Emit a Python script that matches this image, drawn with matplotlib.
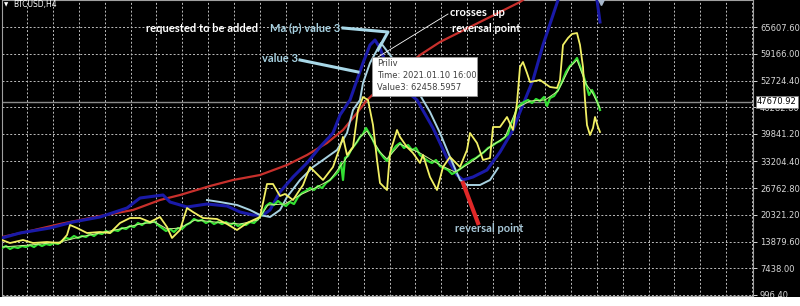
import matplotlib.pyplot as plt
from matplotlib.lines import Line2D
from matplotlib.patches import Rectangle
import numpy as np

# price scale labels shown on the right
tick_labels = ["996.40", "7438.00", "13879.60", "20321.20", "26762.80", "33204.40",
               "39841.20", "46282.80", "52724.40", "59166.00", "65607.60"]
tick_values = [float(t) for t in tick_labels]
last_price = 47670.92

# slow MA (red)
red_x = [2, 30, 60, 100, 133, 160, 180, 210, 233, 260, 287, 307, 327, 343, 357, 367,
         380, 400, 420, 440, 460, 480, 500, 520, 530]
red_y = [14989, 16436, 18125, 20055, 21503, 23915, 25121, 27293, 28740, 29946, 32359,
         34771, 37666, 40803, 44904, 48040, 50935, 54795, 58896, 62033, 64445, 66858,
         69270, 71683, 73371]

# fast MA (dark blue)
blue_x = [2, 20, 50, 73, 100, 127, 140, 163, 170, 187, 207, 227, 240, 253, 263, 270,
          280, 293, 307, 320, 333, 340, 350, 357, 363, 370, 375, 380, 390, 405, 417,
          433, 447, 457, 463, 473, 487, 500, 513, 520, 533, 543, 553, 558, 565, 578,
          590, 597, 600]
blue_y = [14747, 15954, 17160, 18607, 19814, 21985, 24397, 25121, 23432, 22226, 22950,
          22467, 21020, 20296, 20296, 21503, 25845, 29464, 32841, 36701, 40079, 44421,
          48040, 52865, 56966, 61309, 62515, 60585, 54071, 50452, 48040, 41285, 34047,
          29946, 28740, 29464, 31152, 35495, 40803, 45145, 52865, 61309, 68546, 72165,
          76990, 80609, 76990, 72165, 66858]

# Ma (p) value 3 (light blue)
lblue_x = [207, 220, 237, 250, 260, 270, 280, 287, 300, 313, 323, 337, 347, 353, 360,
           363, 370, 377, 381, 390, 405, 420, 430, 440, 450, 460, 467, 480, 490, 498]
lblue_y = [23915, 23432, 22709, 21503, 20296, 19814, 21503, 24639, 28740, 31876, 33565,
           35977, 40079, 45627, 48040, 52141, 56966, 60102, 61791, 58896, 54071, 49246,
           45145, 40079, 34289, 28740, 27534, 27534, 28740, 31635]

# value 3 (yellow)
yel_x = [2, 10, 23, 33, 47, 60, 67, 70, 77, 87, 100, 110, 120, 130, 140, 150, 160, 167,
         172, 180, 187, 193, 203, 217, 227, 237, 247, 260, 267, 273, 280, 285, 293, 303,
         310, 317, 323, 333, 340, 343, 347, 353, 358, 363, 368, 373, 377, 380, 387, 390,
         397, 400, 407, 413, 420, 423, 430, 437, 443, 450, 460, 467, 470, 477, 483, 490,
         493, 500, 507, 513, 517, 520, 523, 527, 530, 540, 550, 557, 560, 563, 568, 572,
         577, 580, 583, 585, 587, 590, 593, 595, 598, 600]
yel_y = [14265, 13541, 14265, 13541, 13782, 13541, 15471, 17884, 17160, 15954, 16195,
         15954, 18366, 19572, 19572, 18607, 19814, 17401, 14747, 16677, 21985, 21020,
         19572, 19331, 18125, 16677, 18366, 19814, 27775, 27775, 24880, 25362, 23915,
         27534, 31876, 30187, 28740, 31876, 36701, 39114, 34771, 36701, 45627, 48764,
         48040, 42009, 33565, 28016, 26327, 35254, 40803, 39114, 36701, 35254, 32841,
         34771, 29464, 26327, 31876, 34289, 31876, 35977, 40079, 37666, 33565, 34047,
         41526, 41526, 43939, 40803, 47316, 56001, 57207, 54554, 52382, 52865, 51176,
         50935, 52865, 61309, 62997, 63962, 64204, 61309, 56001, 48040, 42009, 39596,
         41285, 43939, 41526, 40320]

# price (green, noisy)
grn_x = [2, 6, 10, 14, 18, 22, 26, 30, 34, 38, 42, 46, 50, 54, 58, 62, 66, 70, 74, 78,
         82, 86, 90, 94, 98, 102, 106, 110, 114, 118, 122, 126, 130, 134, 138, 142, 146,
         150, 154, 158, 162, 166, 170, 174, 178, 182, 186, 190, 194, 198, 202, 206, 210,
         214, 218, 222, 226, 230, 234, 238, 242, 246, 250, 254, 258, 262, 266, 270, 274,
         278, 282, 286, 290, 294, 298, 302, 306, 310, 314, 318, 322, 326, 330, 334, 338,
         341, 343, 345, 348, 351, 354, 357, 360, 363, 366, 369, 372, 375, 378, 381, 384,
         387, 390, 393, 396, 400, 404, 408, 412, 416, 420, 424, 428, 432, 436, 440, 444,
         448, 452, 456, 460, 464, 468, 472, 476, 480, 484, 488, 492, 496, 500, 504, 508,
         511, 514, 517, 520, 524, 528, 532, 536, 540, 544, 547, 550, 554, 558, 562, 566,
         570, 574, 577, 580, 583, 586, 589, 592, 595, 598, 600]
grn_y = [12335, 12817, 12094, 12576, 12335, 12817, 12576, 13059, 12576, 13300, 12817,
         13300, 13059, 13541, 13300, 14024, 14747, 14506, 15230, 14747, 15230, 14989,
         15712, 15230, 15954, 15712, 16436, 15954, 16677, 16436, 17160, 16919, 17642,
         17401, 18366, 17884, 18607, 18366, 18849, 17884, 17160, 16436, 16919, 16195,
         17160, 16919, 17884, 18366, 19331, 18849, 19090, 18366, 18849, 18125, 18607,
         18125, 18607, 17884, 18366, 17642, 18125, 17884, 18607, 18366, 19331, 20537,
         22467, 23191, 22709, 23674, 22950, 22467, 23432, 22950, 24639, 25604, 26086,
         26810, 26327, 27292, 26810, 28016, 28740, 29705, 30670, 32841, 28740, 34047,
         34530, 35977, 36942, 37907, 39114, 39837, 41285, 40079, 38872, 37184, 35977,
         35012, 34047, 33324, 34771, 35977, 36942, 37666, 36460, 37184, 35977, 36460,
         34771, 34047, 33324, 32841, 33565, 32117, 31635, 31152, 30187, 30670, 31394,
         32117, 32841, 33565, 34047, 34771, 35495, 36460, 36942, 37666, 38149, 38872,
         39837, 42250, 43697, 46110, 46834, 47557, 48040, 47316, 48281, 47799, 48764,
         46592, 48522, 49005, 50452, 52382, 54795, 56242, 57207, 58172, 56242, 54312,
         51900, 49246, 50452, 49005, 47075, 45627]

# smoothed price (pale core)
pale_x = [2, 30, 60, 80, 100, 120, 140, 155, 167, 180, 195, 215, 240, 258, 268, 285,
          300, 315, 330, 345, 360, 367, 380, 387, 400, 420, 440, 455, 470, 490, 505,
          517, 530, 545, 558, 570, 577, 586, 592, 600]
pale_y = [12576, 13059, 13782, 14989, 15954, 16919, 18125, 18607, 16919, 17160, 19090,
          18607, 18125, 19090, 22709, 22950, 25121, 26810, 28740, 33565, 39114, 40561,
          35495, 33806, 37425, 35254, 32359, 30670, 32841, 36701, 39114, 46110, 47799,
          48040, 50211, 56001, 57690, 51900, 49970, 46110]

W, H = 800, 306
fig = plt.figure(figsize=(W / 100, H / 100), dpi=100, facecolor="black")
ax = fig.add_axes([2 / W, 10 / H, 751 / W, 296 / H], facecolor="black")
ax.set_xlim(2, 753)
ax.set_ylim(755, 72165)

grid_kw = dict(color="#bdbdbd", lw=0.7, ls=(0, (2, 2)), zorder=1)
for v in tick_values:
    ax.axhline(v, **grid_kw)
for gx in np.arange(27, 753, 25.9):
    ax.axvline(gx, **grid_kw)
ax.axhline(last_price, color="#8a8a8a", lw=1.0, zorder=2)

ax.plot(red_x, red_y, color="#c8302c", lw=1.6, zorder=3)
ax.plot(blue_x, blue_y, color="#1a1aa8", lw=2.2, zorder=4)
ax.plot(lblue_x, lblue_y, color="#a8d2e2", lw=1.4, zorder=5)
ax.plot(grn_x, grn_y, color="#33e033", lw=1.6, zorder=6)
ax.plot(pale_x, pale_y, color="#c8f090", lw=0.7, zorder=7)
ax.plot(yel_x, yel_y, color="#f2f064", lw=1.3, zorder=8)

ax.set_xticks([])
ax.yaxis.tick_right()
ax.set_yticks(tick_values)
ax.set_yticklabels(tick_labels)
ax.tick_params(axis="y", colors="#d8d8d8", labelsize=6, length=3, width=0.7, pad=2)
for s in ax.spines.values():
    s.set_color("#a0a0a0")
    s.set_linewidth(0.8)


def fx(x):
    return x / W


def fy(y):
    return 1 - y / H


# bottom white strip (time scale cut off)
fig.add_artist(Rectangle((0, 0), 1, fy(297), transform=fig.transFigure,
                         facecolor="white", edgecolor="none", zorder=10))

fig.text(fx(4), fy(5), "▼", color="white", fontsize=4, va="center", ha="left")
fig.text(fx(13), fy(5), "BTCUSD,H4", color="white", fontsize=5.5, va="center", ha="left")

bold = dict(family="Lato", weight="bold", fontsize=8, va="center")
fig.text(fx(146), fy(28), "requested to be added", color="white", ha="left", **bold)
fig.text(fx(270), fy(28), "Ma (p) value 3", color="#a8d2e2", ha="left", **bold)
fig.text(fx(262), fy(58), "value 3", color="#a8d2e2", ha="left", **bold)
fig.text(fx(450), fy(13), "crosses  up", color="white", ha="left", **bold)
fig.text(fx(452), fy(29), "reversal point", color="white", ha="left", **bold)
fig.text(fx(455), fy(229), "reversal point", color="#a8c8d8", ha="left", **bold)

lb = "#a8d8e8"
fig.add_artist(Line2D([fx(343), fx(388), fx(378)], [fy(28), fy(32), fy(50)],
                      color=lb, lw=2.2, transform=fig.transFigure, zorder=5))
fig.add_artist(Line2D([fx(300), fx(358)], [fy(60), fy(72)],
                      color=lb, lw=2.2, transform=fig.transFigure, zorder=5))
fig.add_artist(Line2D([fx(378), fx(448)], [fy(57), fy(14)],
                      color="white", lw=0.6, transform=fig.transFigure, zorder=5))
fig.add_artist(Line2D([fx(463), fx(478)], [fy(183), fy(223)],
                      color="#e02828", lw=3.0, transform=fig.transFigure, zorder=5))
fig.add_artist(Line2D([fx(601)], [fy(2)], marker="v", ms=5, color="#a8b8cc",
                      transform=fig.transFigure, zorder=5))

# tooltip
fig.add_artist(Rectangle((fx(372), fy(96)), (477 - 372) / W, (96 - 57) / H,
                         transform=fig.transFigure, facecolor="white",
                         edgecolor="#9a9a9a", lw=0.6, zorder=6))
tip = dict(color="#404040", fontsize=6, ha="left", va="center", zorder=7)
fig.text(fx(377), fy(64), "Priliv", **tip)
fig.text(fx(377), fy(76), "Time: 2021.01.10 16:00", **tip)
fig.text(fx(377), fy(88), "Value3: 62458.5957", **tip)

# last price box
fig.text(fx(757), fy(102), "47670.92", color="black", fontsize=6, ha="left",
         va="center", zorder=8,
         bbox=dict(boxstyle="square,pad=0.15", facecolor="white", edgecolor="#808080", lw=0.5))

plt.savefig("out.png", dpi=100, facecolor="black")
